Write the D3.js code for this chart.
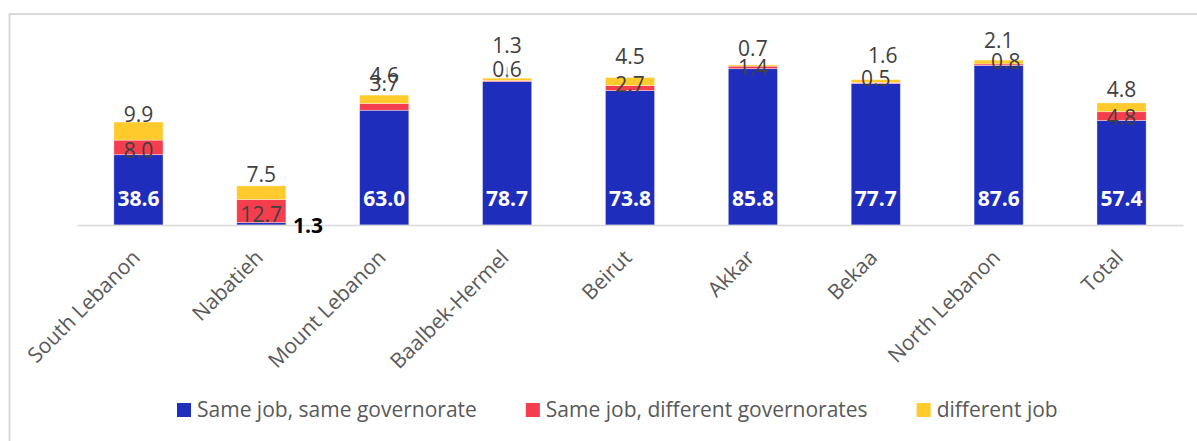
<!DOCTYPE html>
<html>
<head>
<meta charset="utf-8">
<script src="https://cdnjs.cloudflare.com/ajax/libs/d3/7.8.5/d3.min.js"></script>
<style>
  html, body { margin: 0; padding: 0; background: #fff; }
  svg { display: block; font-family: "Open Sans", "Noto Sans", sans-serif; }
</style>
</head>
<body>
<svg id="chart" width="1197" height="441"></svg>
<script>
// ---- data ----
const categories = ["South Lebanon", "Nabatieh", "Mount Lebanon", "Baalbek-Hermel", "Beirut", "Akkar", "Bekaa", "North Lebanon", "Total"];
const sameJobSameGov = [38.6, 1.3, 63.0, 78.7, 73.8, 85.8, 77.7, 87.6, 57.4];
const sameJobDiffGov = [8.0, 12.7, 3.7, 0.6, 2.7, 1.4, 0.5, 0.8, 4.8];
const differentJob = [9.9, 7.5, 4.6, 1.3, 4.5, 0.7, 1.6, 2.1, 4.8];
const seriesNames = ["Same job, same governorate", "Same job, different governorates", "different job"];
const seriesKeys = ["s1", "s2", "s3"];
const seriesColors = ["#1F2DBD", "#F43D4D", "#FFCA2C"];

// ---- label nudges (layout, manual placement as in the original) ----
const redLabelDy = [3.4, 3, -23, -12, -4, 0, -4, -3.6, 1];
const redLabelDx = [0, 0, 0, 0, 0, 0, 0, 7, 0];
const yelLabelDy = [-8, -11, -20, -33, -20.5, -16, -24, -20, -13];
const yelLabelDx = [0, 0, 0, 0, 0, 0, 7, 0, 0];

const rows = categories.map((c, i) => ({ cat: c, s1: sameJobSameGov[i], s2: sameJobDiffGov[i], s3: differentJob[i], i }));

const svg = d3.select("#chart");

// frame
svg.append("rect").attr("x", 9.5).attr("y", 14).attr("width", 1200).attr("height", 440)
  .attr("fill", "none").attr("stroke", "#D9D9D9").attr("stroke-width", 2);

const x = d3.scaleBand().domain(categories).range([77, 1183]).paddingInner(0.6).paddingOuter(0.3);
const y = d3.scaleLinear().domain([0, 100]).range([225, 42.8]);

const stack = d3.stack().keys(seriesKeys)(rows);

const g = svg.append("g");
stack.forEach((layer, li) => {
  g.append("g").selectAll("rect").data(layer).join("rect")
    .attr("x", d => x(d.data.cat))
    .attr("width", x.bandwidth())
    .attr("y", d => y(d[1]))
    .attr("height", d => y(d[0]) - y(d[1]))
    .attr("fill", seriesColors[li])
    .attr("stroke", "rgba(255,255,255,0.45)")
    .attr("stroke-width", 0.8);
});

// axis line
const xAxis = d3.axisBottom(x).tickSize(0).tickFormat("");
const axG = svg.append("g").attr("transform", `translate(0,${y(0)})`).call(xAxis);
axG.select(".domain").attr("stroke", "#D9D9D9").attr("stroke-width", 1.5);

// category labels
svg.append("g").selectAll("text").data(categories).join("text")
  .attr("transform", d => `translate(${x(d) + x.bandwidth() / 2 + 3},${y(0) + 34}) rotate(-45)`)
  .attr("text-anchor", "end")
  .attr("font-size", 21)
  .attr("fill", "#595959")
  .text(d => d);

const cx = d => x(d.cat) + x.bandwidth() / 2;
const fmt = d3.format(".1f");
const half = 7.5; // half digit height for glyph centring

// blue labels (inside base)
svg.append("g").selectAll("text").data(rows).join("text")
  .attr("x", d => d.s1 < 5 ? cx(d) + x.bandwidth() / 2 + 22 : cx(d))
  .attr("y", d => d.s1 < 5 ? y(0) + 8 : y(0) - 19)
  .attr("text-anchor", "middle")
  .attr("font-size", 21)
  .attr("font-weight", 700)
  .attr("fill", d => d.s1 < 5 ? "#000" : "#fff")
  .text(d => fmt(d.s1));

// red labels
svg.append("g").selectAll("text").data(rows).join("text")
  .attr("x", d => cx(d) + redLabelDx[d.i])
  .attr("y", d => (y(d.s1) + y(d.s1 + d.s2)) / 2 + redLabelDy[d.i] + half)
  .attr("text-anchor", "middle")
  .attr("font-size", 21)
  .attr("fill", "#404040")
  .text(d => fmt(d.s2));

// Baalbek leader line
const bi = categories.indexOf("Baalbek-Hermel");
svg.append("line")
  .attr("x1", cx(rows[bi])).attr("x2", cx(rows[bi]))
  .attr("y1", y(rows[bi].s1 + rows[bi].s2 + rows[bi].s3) - 11)
  .attr("y2", y(rows[bi].s1 + rows[bi].s2 + rows[bi].s3))
  .attr("stroke", "#A6A6A6").attr("stroke-width", 1);

// yellow labels
svg.append("g").selectAll("text").data(rows).join("text")
  .attr("x", d => cx(d) + yelLabelDx[d.i])
  .attr("y", d => y(d.s1 + d.s2 + d.s3) + yelLabelDy[d.i] + half)
  .attr("text-anchor", "middle")
  .attr("font-size", 21)
  .attr("fill", "#404040")
  .text(d => fmt(d.s3));

// legend
const leg = svg.append("g");
let lx = 177;
seriesNames.forEach((name, i) => {
  leg.append("rect").attr("x", lx).attr("y", 403).attr("width", 14).attr("height", 14).attr("fill", seriesColors[i]);
  const t = leg.append("text").attr("x", lx + 20).attr("y", 417).attr("font-size", 21).attr("fill", "#595959").text(name);
  lx += 20 + t.node().getComputedTextLength() + 49;
});
</script>
</body>
</html>
